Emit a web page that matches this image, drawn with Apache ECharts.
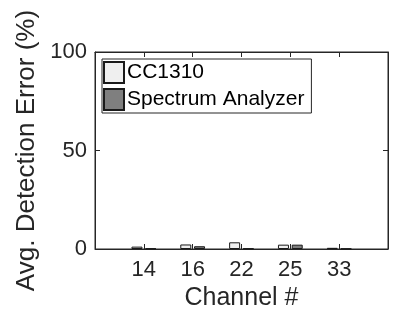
<!DOCTYPE html>
<html><head><meta charset="utf-8">
<script src="https://cdn.jsdelivr.net/npm/echarts@6/dist/echarts.min.js"></script>
<style>html,body{margin:0;padding:0;background:#fff}#c{width:393px;height:320px}</style>
</head><body><div id="c"></div>
<script>
var categories = ['14', '16', '22', '25', '33'];
var cc1310 = [1.2, 2.3, 3.4, 2.2, 0.6];
var spectrum = [0.3, 1.4, 0.3, 2.2, 0.2];
var yTicks = [0, 50, 100];

var font = 'Liberation Sans, Arial, Helvetica, sans-serif';
var ink = '#262626';
function pts(arr){ return arr.map(function(v,i){ return [i+1, v]; }); }
var chart = echarts.init(document.getElementById('c'), null, {renderer:'canvas'});
chart.setOption({
  animation:false,
  textStyle:{fontFamily:font},
  grid:{left:95, top:52, right:5, bottom:71, containLabel:false, show:true, borderColor:ink, borderWidth:1, backgroundColor:'transparent'},
  legend:{
    orient:'vertical', left:102, top:59, padding:[2,7,2,1], itemGap:4,
    itemWidth:20, itemHeight:21, icon:'rect',
    borderColor:ink, borderWidth:1, backgroundColor:'#fff',
    textStyle:{fontFamily:font, fontSize:21, color:'#000', padding:[0,0,0,-2]},
    data:['CC1310','Spectrum Analyzer']
  },
  xAxis:[{
    type:'value', min:0, max:6, interval:1,
    axisLine:{onZero:false, lineStyle:{color:ink}}, axisTick:{inside:true, length:5, lineStyle:{color:ink}},
    splitLine:{show:false},
    axisLabel:{fontSize:22, color:'#262626', margin:10,
      formatter:function(v){ return (v>=1 && v<=categories.length)? categories[v-1] : ''; }},
    name:'Channel #', nameLocation:'middle', nameGap:37,
    nameTextStyle:{fontSize:25, color:'#262626', fontFamily:font}
  },{
    type:'value', min:0, max:6, interval:1, position:'top',
    axisLine:{show:true, onZero:false, lineStyle:{color:ink}}, axisTick:{show:true, inside:true, length:5, lineStyle:{color:ink}},
    axisLabel:{show:false}, splitLine:{show:false}
  }],
  yAxis:[{
    type:'value', min:0, max:100, interval:50,
    axisLine:{show:true, onZero:false, lineStyle:{color:ink}}, axisTick:{show:true, inside:true, length:5, lineStyle:{color:ink}},
    splitLine:{show:false},
    axisLabel:{fontSize:22, color:'#262626', margin:8},
    name:'Avg. Detection Error (%)', nameLocation:'middle', nameGap:54,
    nameTextStyle:{fontSize:26, color:'#262626', fontFamily:font}
  },{
    type:'value', min:0, max:100, interval:50, position:'right',
    axisLine:{show:true, onZero:false, lineStyle:{color:ink}}, axisTick:{show:true, inside:true, length:5, lineStyle:{color:ink}},
    axisLabel:{show:false}, splitLine:{show:false}
  }],
  series:[{
    name:'CC1310', type:'bar', data:pts(cc1310), barWidth:11, barGap:'25%',
    itemStyle:{color:'#efefef', borderColor:'#1a1a1a', borderWidth:1}
  },{
    name:'Spectrum Analyzer', type:'bar', data:pts(spectrum), barWidth:11, barGap:'25%',
    itemStyle:{color:'#7f7f7f', borderColor:'#1a1a1a', borderWidth:1}
  },{
    name:'frame', type:'line', xAxisIndex:1, yAxisIndex:1, data:[], silent:true, showSymbol:false
  }]
});
</script></body></html>
